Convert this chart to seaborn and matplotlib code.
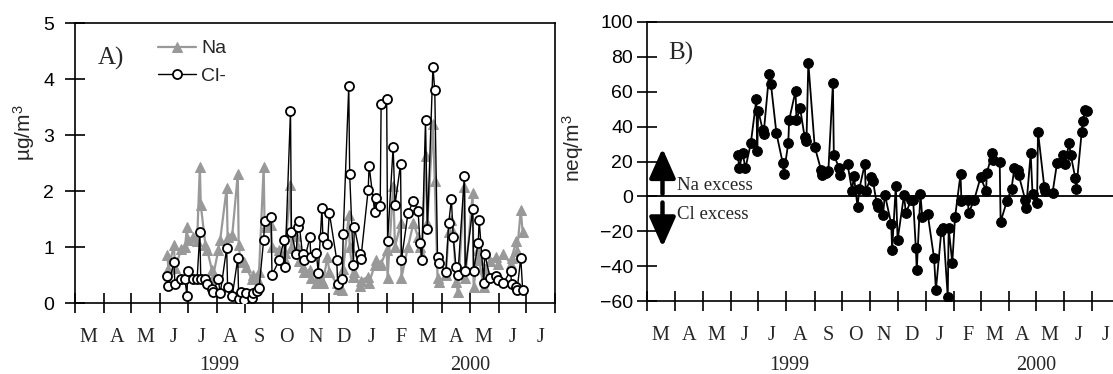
import matplotlib
matplotlib.use("Agg")
import matplotlib.pyplot as plt
import matplotlib.ticker as mticker
import pandas as pd
import seaborn as sns

# ---- Panel A: aerosol Na and Cl- concentrations (µg/m3) ----
sample_dates = [
    "1999-06-09", "1999-06-10", "1999-06-16", "1999-06-17", "1999-06-24", "1999-06-28",
    "1999-06-30", "1999-07-01", "1999-07-07", "1999-07-11", "1999-07-14", "1999-07-15",
    "1999-07-20", "1999-07-22", "1999-07-27", "1999-07-28", "1999-08-03", "1999-08-05",
    "1999-08-12", "1999-08-13", "1999-08-18", "1999-08-24", "1999-08-25", "1999-08-27",
    "1999-08-31", "1999-09-02", "1999-09-08", "1999-09-09", "1999-09-14", "1999-09-16",
    "1999-09-21", "1999-09-22", "1999-09-29", "1999-09-30", "1999-10-08", "1999-10-13",
    "1999-10-14", "1999-10-20", "1999-10-21", "1999-10-26", "1999-10-28", "1999-10-29",
    "1999-11-02", "1999-11-04", "1999-11-10", "1999-11-11", "1999-11-17", "1999-11-19",
    "1999-11-23", "1999-11-24", "1999-11-29", "1999-12-01", "1999-12-09", "1999-12-10",
    "1999-12-15", "1999-12-16", "1999-12-22", "1999-12-23", "1999-12-27", "1999-12-28",
    "2000-01-03", "2000-01-04", "2000-01-12", "2000-01-13", "2000-01-19", "2000-01-20",
    "2000-01-25", "2000-01-26", "2000-02-01", "2000-02-02", "2000-02-08", "2000-02-10",
    "2000-02-16", "2000-02-17", "2000-02-24", "2000-03-01", "2000-03-06", "2000-03-08",
    "2000-03-10", "2000-03-14", "2000-03-16", "2000-03-22", "2000-03-24", "2000-03-27",
    "2000-03-29", "2000-04-05", "2000-04-08", "2000-04-11", "2000-04-13", "2000-04-16",
    "2000-04-18", "2000-04-25", "2000-04-26", "2000-05-04", "2000-05-05", "2000-05-10",
    "2000-05-11", "2000-05-16", "2000-05-17", "2000-05-23", "2000-05-29", "2000-05-31",
    "2000-06-06", "2000-06-14", "2000-06-15", "2000-06-20", "2000-06-21", "2000-06-25",
    "2000-06-27",
]
na_conc = [
    0.86, 0.60, 1.04, 0.62, 0.96, 1.00, 1.36, 1.13, 1.17, 1.10, 2.43, 1.75,
    1.04, 0.95, 0.59, 0.45, 0.95, 1.13, 2.05, 1.17, 1.21, 2.30, 1.04, 0.74,
    0.74, 0.65, 0.43, 0.50, 0.45, 0.56, 2.43, 1.36, 1.39, 1.00, 0.95, 0.80,
    0.89, 2.11, 0.98, 1.20, 1.00, 0.75, 0.65, 0.55, 0.59, 0.45, 0.36, 0.47,
    0.40, 0.35, 0.83, 0.55, 0.35, 0.25, 0.23, 0.60, 1.57, 1.00, 0.47, 0.55,
    0.30, 0.40, 0.47, 0.36, 0.67, 0.77, 0.67, 0.70, 0.95, 0.45, 2.09, 1.00,
    1.42, 0.45, 1.00, 1.43, 1.17, 1.00, 0.85, 2.62, 1.43, 3.20, 2.17, 0.45,
    0.38, 0.50, 1.26, 1.48, 1.27, 0.38, 0.20, 2.08, 0.45, 1.96, 0.28, 0.95,
    0.77, 0.28, 0.60, 0.75, 0.82, 0.70, 0.88, 0.70, 0.80, 1.10, 0.92, 1.66,
    1.27,
]
cl_conc = [
    0.48, 0.30, 0.74, 0.34, 0.42, 0.42, 0.12, 0.58, 0.42, 0.42, 1.26, 0.42,
    0.42, 0.34, 0.25, 0.20, 0.42, 0.17, 0.98, 0.29, 0.12, 0.80, 0.08, 0.20,
    0.05, 0.18, 0.09, 0.18, 0.22, 0.26, 1.13, 1.47, 1.54, 0.50, 0.77, 1.13,
    0.65, 3.43, 1.27, 0.87, 1.36, 1.47, 0.87, 0.77, 1.17, 0.83, 0.89, 0.54,
    1.69, 1.18, 1.06, 1.61, 0.77, 0.34, 0.42, 1.23, 3.87, 2.30, 0.68, 1.36,
    0.87, 0.78, 2.02, 2.45, 1.63, 1.88, 1.74, 3.55, 3.64, 1.10, 2.79, 1.75,
    2.48, 0.77, 1.60, 1.83, 1.64, 1.07, 0.77, 3.27, 1.32, 4.22, 3.80, 0.82,
    0.71, 0.56, 1.42, 1.85, 1.17, 0.64, 0.50, 2.27, 0.58, 1.68, 0.58, 1.08,
    1.49, 0.35, 0.88, 0.44, 0.48, 0.41, 0.35, 0.58, 0.34, 0.29, 0.23, 0.81,
    0.24,
]

# ---- Panel B: Na minus Cl- (neq/m3) ----
excess_dates = [
    "1999-06-09", "1999-06-10", "1999-06-14", "1999-06-17", "1999-06-23", "1999-06-29",
    "1999-06-30", "1999-07-01", "1999-07-06", "1999-07-07", "1999-07-13", "1999-07-15",
    "1999-07-21", "1999-07-28", "1999-07-29", "1999-08-03", "1999-08-04", "1999-08-11",
    "1999-08-12", "1999-08-16", "1999-08-21", "1999-08-23", "1999-08-25", "1999-09-01",
    "1999-09-08", "1999-09-09", "1999-09-13", "1999-09-16", "1999-09-21", "1999-09-22",
    "1999-09-28", "1999-09-29", "1999-10-07", "1999-10-12", "1999-10-14", "1999-10-18",
    "1999-10-20", "1999-10-26", "1999-10-27", "1999-11-02", "1999-11-04", "1999-11-08",
    "1999-11-10", "1999-11-15", "1999-11-17", "1999-11-24", "1999-11-25", "1999-11-29",
    "1999-12-01", "1999-12-08", "1999-12-10", "1999-12-16", "1999-12-18", "1999-12-21",
    "1999-12-22", "1999-12-26", "1999-12-28", "2000-01-03", "2000-01-10", "2000-01-12",
    "2000-01-18", "2000-01-20", "2000-01-25", "2000-01-26", "2000-01-30", "2000-02-02",
    "2000-02-08", "2000-02-09", "2000-02-16", "2000-02-17", "2000-02-23", "2000-03-01",
    "2000-03-07", "2000-03-08", "2000-03-14", "2000-03-15", "2000-03-22", "2000-03-23",
    "2000-03-30", "2000-04-04", "2000-04-07", "2000-04-11", "2000-04-12", "2000-04-19",
    "2000-04-20", "2000-04-25", "2000-04-27", "2000-05-02", "2000-05-03", "2000-05-10",
    "2000-05-11", "2000-05-19", "2000-05-24", "2000-05-30", "2000-06-02", "2000-06-06",
    "2000-06-08", "2000-06-13", "2000-06-14", "2000-06-20", "2000-06-21", "2000-06-24",
    "2000-06-26",
]
na_minus_cl = [
    23.7, 16.1, 24.7, 16.1, 30.8, 55.7, 26.0, 49.2, 38.1, 36.0, 70.2, 64.3,
    36.2, 19.0, 12.7, 30.5, 43.8, 60.6, 43.8, 50.6, 33.9, 32.0, 76.7, 28.5,
    15.1, 12.0, 13.6, 14.7, 64.9, 23.7, 16.1, 12.0, 18.6, 3.3, 11.7, -5.9,
    4.4, 18.6, 3.3, 10.9, 8.7, -3.9, -5.9, -10.6, 1.0, -15.8, -30.7, 6.1,
    -25.0, 0.8, -9.5, -2.0, -2.0, -29.8, -42.4, 1.4, -11.6, -10.1, -35.5, -53.7,
    -19.6, -18.4, -57.5, -18.3, -38.0, -12.0, 12.7, -2.6, -2.0, -9.5, -2.0, 10.9,
    3.3, 13.6, 25.1, 21.0, 19.8, -14.5, -2.6, 4.4, 16.1, 15.0, 12.0, -2.0,
    -6.8, 24.7, 1.6, -3.8, 37.1, 5.1, 3.3, 2.1, 19.4, 23.7, 18.6, 30.5,
    23.7, 10.3, 4.2, 37.1, 43.4, 49.5, 49.0,
]

month_letters = ["M", "A", "M", "J", "J", "A", "S", "O", "N", "D",
                 "J", "F", "M", "A", "M", "J", "J"]
year_labels = ["1999", "2000"]
year_label_dates = ["1999-08-04", "2000-05-01"]

SERIF = "Liberation Serif"
SANS = "Liberation Sans"

sns.set_style("ticks")
plt.rcParams["font.family"] = [SANS, "DejaVu Sans"]
plt.rcParams["mathtext.fontset"] = "custom"
plt.rcParams["mathtext.rm"] = SANS
plt.rcParams["mathtext.it"] = SANS

df_a = pd.DataFrame({"date": pd.to_datetime(sample_dates), "Na": na_conc, "Cl-": cl_conc})
df_b = pd.DataFrame({"date": pd.to_datetime(excess_dates), "diff": na_minus_cl})

fig = plt.figure(figsize=(11.13, 3.74), dpi=100)
W, H = 1113, 374
ax_a = fig.add_axes([75 / W, 1 - 303 / H, 480 / W, 280 / H])
ax_b = fig.add_axes([647 / W, 1 - 301 / H, 473 / W, 279 / H])

grey = "#999999"
sns.lineplot(data=df_a, x="date", y="Na", ax=ax_a, color=grey, lw=1.6,
             marker="^", markersize=7.5, markerfacecolor=grey, markeredgecolor=grey,
             estimator=None, sort=False, label="Na", zorder=2)
sns.lineplot(data=df_a, x="date", y="Cl-", ax=ax_a, color="black", lw=1.0,
             marker="o", markersize=6.5, markerfacecolor="white", markeredgecolor="black",
             markeredgewidth=1.3, estimator=None, sort=False, label="Cl-", zorder=3)

ax_b.axhline(0, color="black", lw=1.3, zorder=1)
sns.lineplot(data=df_b, x="date", y="diff", ax=ax_b, color="black", lw=1.3,
             marker="o", markersize=7, markerfacecolor="black", markeredgecolor="black",
             estimator=None, sort=False, zorder=3)

x0, x1 = pd.Timestamp("1999-03-01"), pd.Timestamp("2000-08-01")
month_starts = pd.date_range(x0, x1, freq="MS")
mid_months = pd.date_range(x0, periods=len(month_letters), freq="MS") + pd.Timedelta(days=15)

for ax, year_y in ((ax_a, -0.240), (ax_b, -0.2475)):
    ax.set_xlim(x0, x1)
    ax.set_xticks(month_starts)
    ax.xaxis.set_major_formatter(mticker.NullFormatter())
    ax.set_xticks(mid_months, labels=month_letters, minor=True,
                  fontfamily=SERIF, fontsize=14.5)
    ax.tick_params(axis="both", which="major", direction="inout", length=14,
                   width=1.2, colors="black", labelsize=14)
    ax.tick_params(axis="x", which="minor", length=0, pad=18)
    ax.set_xlabel("")
    for s in ax.spines.values():
        s.set_linewidth(1.2)
        s.set_color("black")
    for yl, yd in zip(year_labels, year_label_dates):
        ax.text(pd.Timestamp(yd), year_y, yl,
                transform=ax.get_xaxis_transform(), ha="center", va="baseline",
                fontfamily=SERIF, fontsize=14.5)

# Panel A axes
ax_a.set_ylim(0, 5)
ax_a.set_yticks([0, 1, 2, 3, 4, 5])
ax_a.tick_params(axis="y", pad=8)
ax_a.set_ylabel(r"µg/m$^3$", fontsize=15)
ax_a.yaxis.set_label_coords(-0.079, 0.607)
ax_a.text(0.048, 0.85, "A)", transform=ax_a.transAxes, fontfamily=SERIF,
          fontsize=18, va="baseline", ha="left")
ax_a.legend(loc="upper left", bbox_to_anchor=(0.172, 0.94), frameon=False,
            fontsize=14, handlelength=2.0, handletextpad=0.25,
            labelspacing=0.5, borderaxespad=0, borderpad=0)

# Panel B axes
ax_b.set_ylim(-60, 100)
ax_b.set_yticks(range(-60, 101, 20))
ax_b.tick_params(axis="y", pad=3)
ax_b.set_ylabel(r"neq/m$^3$", fontsize=15)
ax_b.yaxis.set_label_coords(-0.128, 0.548)
ax_b.text(0.044, 0.864, "B)", transform=ax_b.transAxes, fontfamily=SERIF,
          fontsize=18, va="baseline", ha="left")

arrow_x = pd.Timestamp("1999-03-18")
arrow_kw = dict(arrowstyle="-|>,head_length=0.9,head_width=0.4", color="black",
                lw=3.2, mutation_scale=20, shrinkA=0, shrinkB=0)
ax_b.annotate("", xy=(arrow_x, 27.5), xytext=(arrow_x, 1.5), arrowprops=arrow_kw)
ax_b.annotate("", xy=(arrow_x, -29), xytext=(arrow_x, -3.5), arrowprops=arrow_kw)
ax_b.text(0.0634, 6.3, "Na excess", transform=ax_b.get_yaxis_transform(),
          fontfamily=SERIF, fontsize=13.5, va="center", ha="left")
ax_b.text(0.0634, -10.3, "Cl excess", transform=ax_b.get_yaxis_transform(),
          fontfamily=SERIF, fontsize=13.5, va="center", ha="left")

fig.savefig("out.png", dpi=100)
